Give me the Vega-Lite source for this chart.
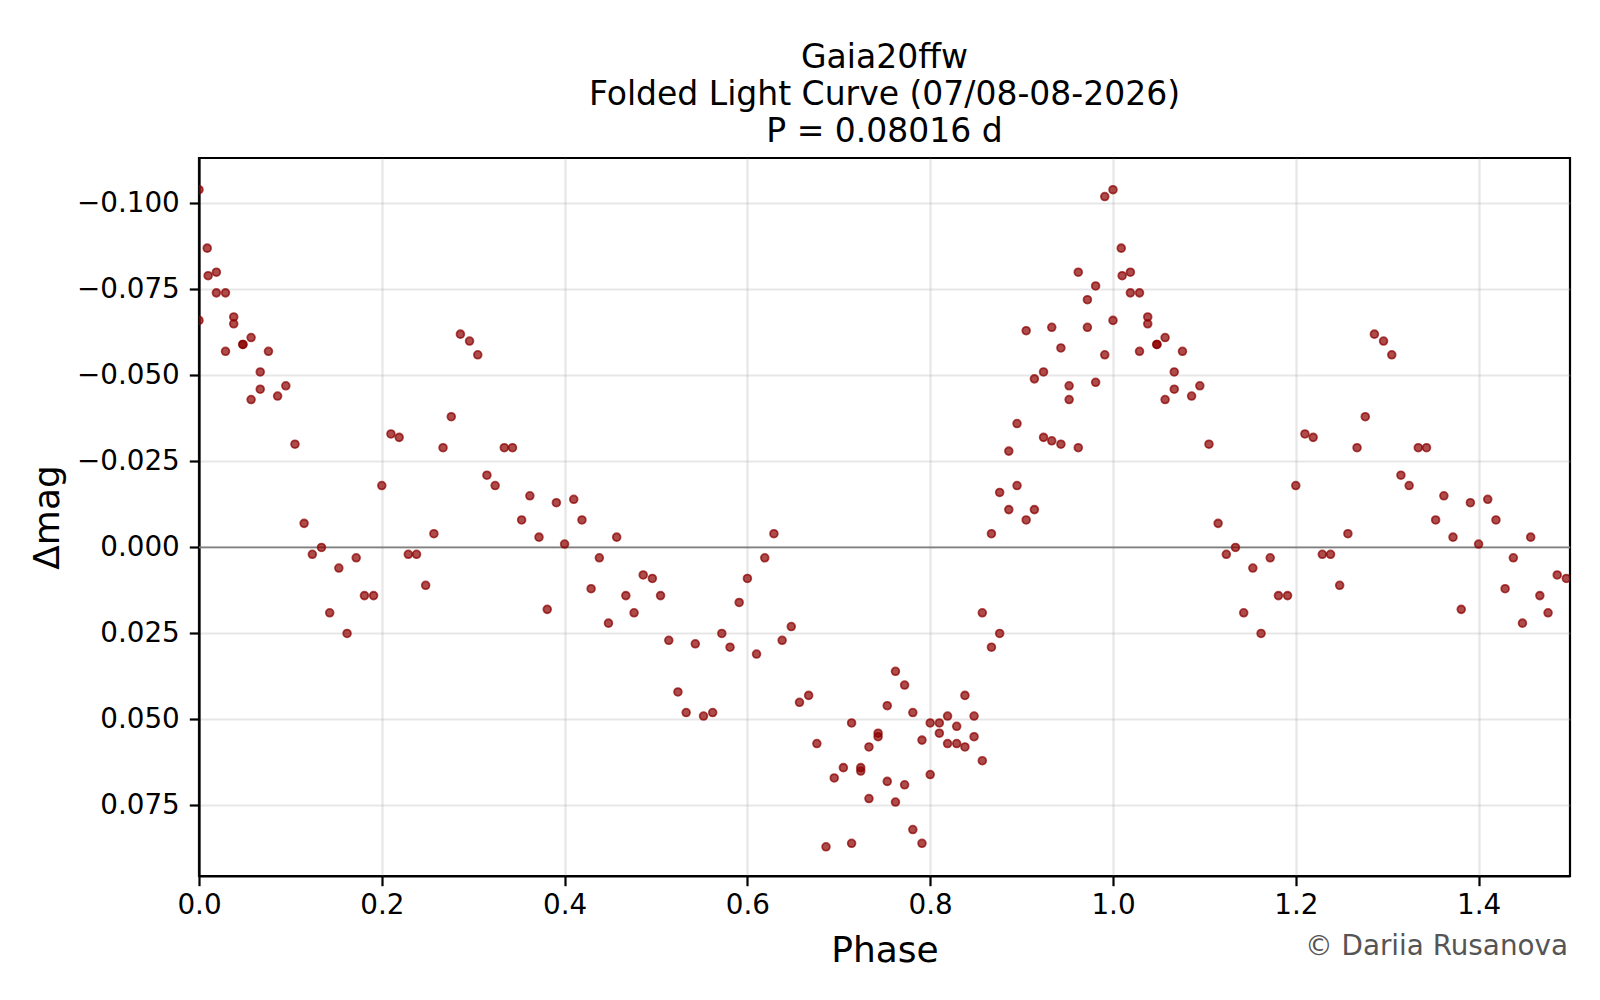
{
  "$schema": "https://vega.github.io/schema/vega-lite/v6.json",
  "width": 1371,
  "height": 718,
  "autosize": "none",
  "padding": {"left": 199, "top": 158, "right": 30, "bottom": 124},
  "background": "white",
  "title": {
    "text": ["Gaia20ffw", "Folded Light Curve (07/08-08-2026)", "P = 0.08016 d"],
    "fontSize": 33,
    "fontWeight": "normal",
    "lineHeight": 37,
    "offset": 9,
    "color": "black",
    "anchor": "middle"
  },
  "config": {
    "font": "DejaVu Sans",
    "view": {"stroke": "black", "strokeWidth": 2.2},
    "axis": {
      "domainColor": "black",
      "domainWidth": 2.2,
      "tickColor": "black",
      "tickWidth": 2.2,
      "tickSize": 9.7,
      "labelColor": "black",
      "labelFontSize": 27.8,
      "labelFlush": false,
      "titleColor": "black",
      "titleFontSize": 36,
      "titleFontWeight": "normal",
      "grid": true,
      "gridColor": "#b0b0b0",
      "gridOpacity": 0.3,
      "gridWidth": 2.2
    }
  },
  "data": {
    "values": [
      {"phase": 0.000, "dmag": -0.104}, {"phase": 0.000, "dmag": -0.066},
      {"phase": 0.009, "dmag": -0.087}, {"phase": 0.010, "dmag": -0.079},
      {"phase": 0.019, "dmag": -0.080}, {"phase": 0.019, "dmag": -0.074},
      {"phase": 0.029, "dmag": -0.074}, {"phase": 0.029, "dmag": -0.057},
      {"phase": 0.038, "dmag": -0.067}, {"phase": 0.038, "dmag": -0.065},
      {"phase": 0.048, "dmag": -0.059}, {"phase": 0.048, "dmag": -0.059},
      {"phase": 0.057, "dmag": -0.061}, {"phase": 0.057, "dmag": -0.043},
      {"phase": 0.067, "dmag": -0.051}, {"phase": 0.067, "dmag": -0.046},
      {"phase": 0.076, "dmag": -0.057}, {"phase": 0.086, "dmag": -0.044},
      {"phase": 0.095, "dmag": -0.047}, {"phase": 0.105, "dmag": -0.030},
      {"phase": 0.115, "dmag": -0.007}, {"phase": 0.124, "dmag": 0.002},
      {"phase": 0.134, "dmag": 0.000}, {"phase": 0.143, "dmag": 0.019},
      {"phase": 0.153, "dmag": 0.006}, {"phase": 0.162, "dmag": 0.025},
      {"phase": 0.172, "dmag": 0.003}, {"phase": 0.181, "dmag": 0.014},
      {"phase": 0.191, "dmag": 0.014}, {"phase": 0.200, "dmag": -0.018},
      {"phase": 0.210, "dmag": -0.033}, {"phase": 0.219, "dmag": -0.032},
      {"phase": 0.229, "dmag": 0.002}, {"phase": 0.238, "dmag": 0.002},
      {"phase": 0.248, "dmag": 0.011}, {"phase": 0.257, "dmag": -0.004},
      {"phase": 0.267, "dmag": -0.029}, {"phase": 0.276, "dmag": -0.038},
      {"phase": 0.286, "dmag": -0.062}, {"phase": 0.296, "dmag": -0.060},
      {"phase": 0.305, "dmag": -0.056}, {"phase": 0.315, "dmag": -0.021},
      {"phase": 0.324, "dmag": -0.018}, {"phase": 0.334, "dmag": -0.029},
      {"phase": 0.343, "dmag": -0.029}, {"phase": 0.353, "dmag": -0.008},
      {"phase": 0.362, "dmag": -0.015}, {"phase": 0.372, "dmag": -0.003},
      {"phase": 0.381, "dmag": 0.018}, {"phase": 0.391, "dmag": -0.013},
      {"phase": 0.400, "dmag": -0.001}, {"phase": 0.410, "dmag": -0.014},
      {"phase": 0.419, "dmag": -0.008}, {"phase": 0.429, "dmag": 0.012},
      {"phase": 0.438, "dmag": 0.003}, {"phase": 0.448, "dmag": 0.022},
      {"phase": 0.457, "dmag": -0.003}, {"phase": 0.467, "dmag": 0.014},
      {"phase": 0.476, "dmag": 0.019}, {"phase": 0.486, "dmag": 0.008},
      {"phase": 0.496, "dmag": 0.009}, {"phase": 0.505, "dmag": 0.014},
      {"phase": 0.514, "dmag": 0.027}, {"phase": 0.524, "dmag": 0.042},
      {"phase": 0.533, "dmag": 0.048}, {"phase": 0.543, "dmag": 0.028},
      {"phase": 0.552, "dmag": 0.049}, {"phase": 0.562, "dmag": 0.048},
      {"phase": 0.572, "dmag": 0.025}, {"phase": 0.581, "dmag": 0.029},
      {"phase": 0.591, "dmag": 0.016}, {"phase": 0.600, "dmag": 0.009},
      {"phase": 0.610, "dmag": 0.031}, {"phase": 0.619, "dmag": 0.003},
      {"phase": 0.629, "dmag": -0.004}, {"phase": 0.638, "dmag": 0.027},
      {"phase": 0.648, "dmag": 0.023}, {"phase": 0.657, "dmag": 0.045},
      {"phase": 0.667, "dmag": 0.043}, {"phase": 0.676, "dmag": 0.057},
      {"phase": 0.686, "dmag": 0.087}, {"phase": 0.695, "dmag": 0.067},
      {"phase": 0.705, "dmag": 0.064}, {"phase": 0.714, "dmag": 0.051},
      {"phase": 0.714, "dmag": 0.086}, {"phase": 0.724, "dmag": 0.064},
      {"phase": 0.724, "dmag": 0.065}, {"phase": 0.733, "dmag": 0.058},
      {"phase": 0.733, "dmag": 0.073}, {"phase": 0.743, "dmag": 0.054},
      {"phase": 0.743, "dmag": 0.055}, {"phase": 0.753, "dmag": 0.046},
      {"phase": 0.753, "dmag": 0.068}, {"phase": 0.762, "dmag": 0.036},
      {"phase": 0.762, "dmag": 0.074}, {"phase": 0.772, "dmag": 0.040},
      {"phase": 0.772, "dmag": 0.069}, {"phase": 0.781, "dmag": 0.048},
      {"phase": 0.781, "dmag": 0.082}, {"phase": 0.791, "dmag": 0.056},
      {"phase": 0.791, "dmag": 0.086}, {"phase": 0.800, "dmag": 0.051},
      {"phase": 0.800, "dmag": 0.066}, {"phase": 0.810, "dmag": 0.051},
      {"phase": 0.810, "dmag": 0.054}, {"phase": 0.819, "dmag": 0.049},
      {"phase": 0.819, "dmag": 0.057}, {"phase": 0.829, "dmag": 0.052},
      {"phase": 0.829, "dmag": 0.057}, {"phase": 0.838, "dmag": 0.043},
      {"phase": 0.838, "dmag": 0.058}, {"phase": 0.848, "dmag": 0.049},
      {"phase": 0.848, "dmag": 0.055}, {"phase": 0.857, "dmag": 0.062},
      {"phase": 0.857, "dmag": 0.019}, {"phase": 0.867, "dmag": 0.029},
      {"phase": 0.867, "dmag": -0.004}, {"phase": 0.876, "dmag": 0.025},
      {"phase": 0.876, "dmag": -0.016}, {"phase": 0.886, "dmag": -0.011},
      {"phase": 0.886, "dmag": -0.028}, {"phase": 0.895, "dmag": -0.018},
      {"phase": 0.895, "dmag": -0.036}, {"phase": 0.905, "dmag": -0.008},
      {"phase": 0.905, "dmag": -0.063}, {"phase": 0.914, "dmag": -0.011},
      {"phase": 0.914, "dmag": -0.049}, {"phase": 0.924, "dmag": -0.032},
      {"phase": 0.924, "dmag": -0.051}, {"phase": 0.933, "dmag": -0.031},
      {"phase": 0.933, "dmag": -0.064}, {"phase": 0.943, "dmag": -0.030},
      {"phase": 0.943, "dmag": -0.058}, {"phase": 0.952, "dmag": -0.047},
      {"phase": 0.952, "dmag": -0.043}, {"phase": 0.962, "dmag": -0.029},
      {"phase": 0.962, "dmag": -0.080}, {"phase": 0.972, "dmag": -0.072},
      {"phase": 0.972, "dmag": -0.064}, {"phase": 0.981, "dmag": -0.076},
      {"phase": 0.981, "dmag": -0.048}, {"phase": 0.991, "dmag": -0.056},
      {"phase": 0.991, "dmag": -0.102},
      {"phase": 1.000, "dmag": -0.104}, {"phase": 1.000, "dmag": -0.066},
      {"phase": 1.009, "dmag": -0.087}, {"phase": 1.010, "dmag": -0.079},
      {"phase": 1.019, "dmag": -0.080}, {"phase": 1.019, "dmag": -0.074},
      {"phase": 1.029, "dmag": -0.074}, {"phase": 1.029, "dmag": -0.057},
      {"phase": 1.038, "dmag": -0.067}, {"phase": 1.038, "dmag": -0.065},
      {"phase": 1.048, "dmag": -0.059}, {"phase": 1.048, "dmag": -0.059},
      {"phase": 1.057, "dmag": -0.061}, {"phase": 1.057, "dmag": -0.043},
      {"phase": 1.067, "dmag": -0.051}, {"phase": 1.067, "dmag": -0.046},
      {"phase": 1.076, "dmag": -0.057}, {"phase": 1.086, "dmag": -0.044},
      {"phase": 1.095, "dmag": -0.047}, {"phase": 1.105, "dmag": -0.030},
      {"phase": 1.115, "dmag": -0.007}, {"phase": 1.124, "dmag": 0.002},
      {"phase": 1.134, "dmag": 0.000}, {"phase": 1.143, "dmag": 0.019},
      {"phase": 1.153, "dmag": 0.006}, {"phase": 1.162, "dmag": 0.025},
      {"phase": 1.172, "dmag": 0.003}, {"phase": 1.181, "dmag": 0.014},
      {"phase": 1.191, "dmag": 0.014}, {"phase": 1.200, "dmag": -0.018},
      {"phase": 1.210, "dmag": -0.033}, {"phase": 1.219, "dmag": -0.032},
      {"phase": 1.229, "dmag": 0.002}, {"phase": 1.238, "dmag": 0.002},
      {"phase": 1.248, "dmag": 0.011}, {"phase": 1.257, "dmag": -0.004},
      {"phase": 1.267, "dmag": -0.029}, {"phase": 1.276, "dmag": -0.038},
      {"phase": 1.286, "dmag": -0.062}, {"phase": 1.296, "dmag": -0.060},
      {"phase": 1.305, "dmag": -0.056}, {"phase": 1.315, "dmag": -0.021},
      {"phase": 1.324, "dmag": -0.018}, {"phase": 1.334, "dmag": -0.029},
      {"phase": 1.343, "dmag": -0.029}, {"phase": 1.353, "dmag": -0.008},
      {"phase": 1.362, "dmag": -0.015}, {"phase": 1.372, "dmag": -0.003},
      {"phase": 1.381, "dmag": 0.018}, {"phase": 1.391, "dmag": -0.013},
      {"phase": 1.400, "dmag": -0.001}, {"phase": 1.410, "dmag": -0.014},
      {"phase": 1.419, "dmag": -0.008}, {"phase": 1.429, "dmag": 0.012},
      {"phase": 1.438, "dmag": 0.003}, {"phase": 1.448, "dmag": 0.022},
      {"phase": 1.457, "dmag": -0.003}, {"phase": 1.467, "dmag": 0.014},
      {"phase": 1.476, "dmag": 0.019}, {"phase": 1.486, "dmag": 0.008},
      {"phase": 1.496, "dmag": 0.009}
    ]
  },
  "layer": [
    {
      "data": {"values": [{"zero": 0}]},
      "mark": {"type": "rule", "color": "#808080", "strokeWidth": 1.8},
      "encoding": {"y": {"field": "zero", "type": "quantitative"}}
    },
    {
      "mark": {
        "type": "circle",
        "size": 60,
        "fill": "#8b0000",
        "fillOpacity": 0.7,
        "stroke": "#8b0000",
        "strokeOpacity": 0.7,
        "strokeWidth": 1.8,
        "clip": true
      },
      "encoding": {
        "x": {
          "field": "phase",
          "type": "quantitative",
          "title": "Phase",
          "scale": {"domain": [0, 1.5], "nice": false, "zero": false},
          "axis": {
            "values": [0, 0.2, 0.4, 0.6, 0.8, 1.0, 1.2, 1.4],
            "format": ".1f",
            "labelPadding": 6,
            "titlePadding": 14
          }
        },
        "y": {
          "field": "dmag",
          "type": "quantitative",
          "title": "Δmag",
          "scale": {"domain": [-0.1132, 0.0955], "nice": false, "zero": false, "reverse": true},
          "axis": {
            "values": [-0.1, -0.075, -0.05, -0.025, 0, 0.025, 0.05, 0.075],
            "labelExpr": "replace(format(datum.value, '.3f'), '-', '−')",
            "labelPadding": 10,
            "titlePadding": 10
          }
        }
      }
    },
    {
      "data": {"values": [{"note": "© Dariia Rusanova"}]},
      "mark": {
        "type": "text",
        "align": "right",
        "baseline": "alphabetic",
        "fontSize": 27.8,
        "color": "#555555",
        "dx": -2,
        "dy": 79
      },
      "encoding": {
        "text": {"field": "note", "type": "nominal"},
        "x": {"value": "width"},
        "y": {"value": "height"}
      }
    }
  ]
}
